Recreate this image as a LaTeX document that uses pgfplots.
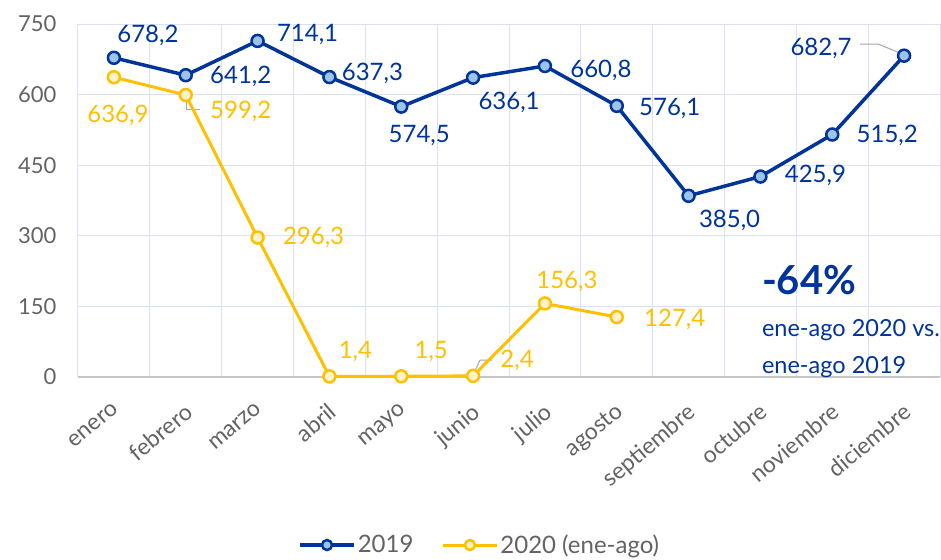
\documentclass[border=0pt]{standalone}
\usepackage{pgfplots}
\pgfplotsset{compat=1.18}
\usepackage{pgfplotstable}
\usepackage{fontspec}
\setmainfont{Lato}
\definecolor{cblue}{HTML}{00349A}
\definecolor{cbluefill}{HTML}{9DC3E6}
\definecolor{cyel}{HTML}{FFC000}
\definecolor{cyelfill}{HTML}{FFF2CC}
\definecolor{cgrid}{HTML}{DAE3F3}
\definecolor{ctext}{HTML}{636363}

\pgfplotstableread{
x y lab dx dy
0 678.2 678,2 34 22
1 641.2 641,2 55 -1
2 714.1 714,1 50 6
3 637.3 637,3 43 4
4 574.5 574,5 18 -29
5 636.1 636,1 36 -25
6 660.8 660,8 56 -4
7 576.1 576,1 53 -3
8 385.0 385,0 41 -25
9 425.9 425,9 55 1
10 515.2 515,2 55 -1
11 682.7 682,7 -83 7
}\tabA
\pgfplotstableread{
x y lab dx dy
0 636.9 636,9 4 -38
1 599.2 599,2 55 -16
2 296.3 296,3 56 0
3 1.4 1,4 26 25
4 1.5 1,5 30 25
5 2.4 2,4 44 15
6 156.3 156,3 22 22
7 127.4 127,4 58 -2
}\tabB

\begin{document}
\begin{tikzpicture}
\begin{axis}[
  name=ax, scale only axis, width=862pt, height=353pt,
  xmin=-0.5, xmax=11.5, ymin=0, ymax=750,
  xtick={0,...,11},
  xticklabels={enero,febrero,marzo,abril,mayo,junio,julio,agosto,septiembre,octubre,noviembre,diciembre},
  minor xtick={-0.5,0.5,...,11.5},
  ytick={0,150,...,750},
  xmajorgrids=false, xminorgrids=true, ymajorgrids=true,
  grid style={cgrid, line width=1pt},
  minor grid style={cgrid, line width=1pt},
  major tick length=0pt, minor tick length=0pt,
  axis line style={draw=none},
  tick label style={font=\fontsize{22}{26}\selectfont, text=ctext},
  /pgf/number format/assume math mode=true,
  xticklabel style={font=\fontsize{23}{27}\selectfont, anchor=north east, xshift=-2pt, yshift=-20pt, rotate=40},
  yticklabel style={xshift=-18pt},
  clip=false,
  legend style={at={(0.466,-0.476)}, anchor=center, legend columns=2, draw=none,
    font=\fontsize{24}{28}\selectfont, text=ctext,
    /tikz/every even column/.append style={column sep=26pt}},
  legend image code/.code={\draw[mark repeat=2,mark phase=2, mark size=5pt] plot coordinates {(0pt,0pt) (27pt,0pt) (54pt,0pt)};},
]
\draw[gray!45, line width=1.3pt] (axis cs:-0.5,0) -- (axis cs:11.5,0);
\draw[gray!70, line width=1pt] (axis cs:10.387,707.5) -- (axis cs:10.637,707.5) -- (axis cs:10.944,688.3);
\draw[gray!70, line width=1pt] (axis cs:1.017,594.9) -- (axis cs:1.017,569.4) -- (axis cs:1.198,569.4);
\draw[gray!70, line width=1pt] (axis cs:4.999,4.2) -- (axis cs:5.097,36.1) -- (axis cs:5.264,36.1);

\addplot[cblue, line width=3.5pt, mark=*, mark size=6pt,
  mark options={fill=cbluefill, draw=cblue, line width=2.5pt},
  nodes near coords, point meta=explicit symbolic,
  visualization depends on={\thisrow{dx}\as\dx},
  visualization depends on={\thisrow{dy}\as\dy},
  every node near coord/.append style={anchor=center, xshift=\dx pt, yshift=\dy pt,
    font=\fontsize{24}{28}\selectfont, text=cblue}]
  table[x=x, y=y, meta=lab] {\tabA};
\addlegendentry{2019}
\addplot[cyel, line width=3pt, mark=*, mark size=6pt,
  mark options={fill=cyelfill, draw=cyel, line width=2.5pt},
  nodes near coords, point meta=explicit symbolic,
  visualization depends on={\thisrow{dx}\as\dx},
  visualization depends on={\thisrow{dy}\as\dy},
  every node near coord/.append style={anchor=center, xshift=\dx pt, yshift=\dy pt,
    font=\fontsize{24}{28}\selectfont, text=cyel}]
  table[x=x, y=y, meta=lab] {\tabB};
\addlegendentry{2020 (ene-ago)}

\node[anchor=west, inner sep=0pt, text=cblue, font=\bfseries\fontsize{40}{48}\selectfont] at (axis cs:9.02,206) {-64\%};
\node[anchor=west, inner sep=0pt, text=cblue, font=\fontsize{23.5}{28}\selectfont] at (axis cs:9.02,100) {ene-ago 2020 vs.};
\node[anchor=west, inner sep=0pt, text=cblue, font=\fontsize{23.5}{28}\selectfont] at (axis cs:9.02,21) {ene-ago 2019};
\end{axis}
\path[use as bounding box] (ax.south west) ++(-78pt,-180pt) rectangle ++(941pt,557pt);
\end{tikzpicture}
\end{document}
